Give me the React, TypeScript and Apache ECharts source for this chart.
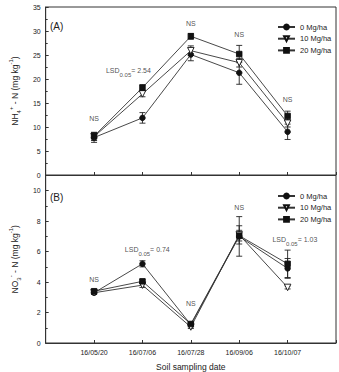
import React, { useEffect, useRef } from "react";
import * as echarts from "echarts";

const dates = ["16/05/20", "16/07/06", "16/07/28", "16/09/06", "16/10/07"];
const seriesNames = ["0 Mg/ha", "10 Mg/ha", "20 Mg/ha"];

// Panel A: NH4+-N
const a0 = [7.8, 11.9, 25.1, 21.3, 9.0];
const a10 = [8.0, 16.9, 25.9, 23.4, 10.8];
const a20 = [8.1, 18.2, 28.9, 25.2, 12.3];
const a0Err = [1.0, 1.1, 1.3, 2.4, 1.6];
const a10Err = [0.8, 0.6, 1.0, 0.9, 0.8];
const a20Err = [0.8, 0.6, 0.6, 1.8, 1.0];

// Panel B: NO3--N
const b0 = [3.3, 5.2, 1.2, 7.0, 4.9];
const b10 = [3.3, 3.8, 1.05, 7.1, 3.65];
const b20 = [3.4, 4.05, 1.25, 7.05, 5.2];
const b0Err = [0.1, 0.2, 0.15, 1.3, 0.65];
const b10Err = [0.1, 0.15, 0.1, 0.6, 0.1];
const b20Err = [0.1, 0.1, 0.1, 0.35, 0.9];

// annotations (data coords)
const nsA = [[0, 11.7], [2, 31.5], [3, 29.2], [4, 15.8]];
const nsB = [[0, 4.15], [2, 2.6], [3, 8.9]];
const lsdA = [[0.71, 21.7, "2.54"]];
const lsdB = [[1.1, 6.13, "0.74"], [4.15, 6.79, "1.03"]];

const FONT = "Liberation Sans, Arial, sans-serif";
const INK = "#222";

const symbols = [
  { symbol: "circle", size: 5.5, rotate: 0, fill: "#111" },
  { symbol: "triangle", size: 6.5, rotate: 180, fill: "#fff" },
  { symbol: "rect", size: 5.5, rotate: 0, fill: "#111" },
];

function lineSeries(name: string, vals: number[], idx: number, k: number) {
  const s = symbols[k];
  return {
    type: "line",
    name,
    xAxisIndex: idx,
    yAxisIndex: idx,
    data: vals.map((v, i) => [i, v]),
    symbol: s.symbol,
    symbolSize: s.size,
    symbolRotate: s.rotate,
    lineStyle: { color: "#333", width: 0.9 },
    itemStyle: { color: s.fill, borderColor: "#111", borderWidth: 0.9 },
    z: 3,
  };
}

function errSeries(vals: number[], errs: number[], idx: number) {
  return {
    type: "custom",
    xAxisIndex: idx,
    yAxisIndex: idx,
    silent: true,
    z: 2,
    data: vals.map((v, i) => [i, v - errs[i], v + errs[i]]),
    renderItem: (params: any, api: any) => {
      const lo = api.coord([api.value(0), api.value(1)]);
      const hi = api.coord([api.value(0), api.value(2)]);
      const w = 3;
      const st = { stroke: "#222", lineWidth: 0.9 };
      return {
        type: "group",
        children: [
          { type: "line", shape: { x1: lo[0], y1: lo[1], x2: hi[0], y2: hi[1] }, style: st },
          { type: "line", shape: { x1: lo[0] - w, y1: lo[1], x2: lo[0] + w, y2: lo[1] }, style: st },
          { type: "line", shape: { x1: hi[0] - w, y1: hi[1], x2: hi[0] + w, y2: hi[1] }, style: st },
        ],
      };
    },
  };
}

const richSub = {
  sub: { fontSize: 6, lineHeight: 6, verticalAlign: "bottom", fontFamily: FONT, color: INK, textBorderWidth: 0 },
  sup: { fontSize: 6, lineHeight: 6, verticalAlign: "top", fontFamily: FONT, color: INK, textBorderWidth: 0 },
};

function textSeries(items: any[], idx: number) {
  return {
    type: "scatter",
    xAxisIndex: idx,
    yAxisIndex: idx,
    silent: true,
    symbolSize: 1,
    itemStyle: { color: "transparent" },
    z: 5,
    data: items.map((d) => ({ value: [d[0], d[1]], name: d[2] })),
    label: {
      show: true,
      position: "inside",
      formatter: (p: any) => p.name,
      fontFamily: FONT,
      fontSize: 7,
      lineHeight: 14,
      color: INK,
      textBorderWidth: 0,
      textBorderColor: "transparent",
      rich: richSub,
    },
  };
}

function xAxis(idx: number, showLabels: boolean) {
  return {
    type: "value",
    gridIndex: idx,
    min: -1,
    max: 5,
    interval: 1,
    axisLine: { onZero: false, lineStyle: { color: "#333", width: 1 } },
    axisTick: { inside: true, length: 3, lineStyle: { color: "#333" } },
    splitLine: { show: false },
    axisLabel: {
      show: showLabels,
      margin: 6,
      fontFamily: FONT,
      fontSize: 7,
      color: INK,
      formatter: (v: number) => (v >= 0 && v <= 4 ? dates[v] : ""),
    },
    name: showLabels ? "Soil sampling date" : "",
    nameLocation: "middle",
    nameGap: 19,
    nameTextStyle: { fontFamily: FONT, fontSize: 8.5, color: INK },
  };
}

export default function App() {
  const ref = useRef<HTMLDivElement>(null);
  useEffect(() => {
    if (!ref.current) return;
    const chart = echarts.init(ref.current, null, { renderer: "svg" });
    const legendBase = {
      data: seriesNames,
      orient: "vertical",
      left: 272,
      itemWidth: 17,
      itemHeight: 6,
      itemGap: 3.7,
      textStyle: { fontFamily: FONT, fontSize: 7.5, lineHeight: 6, color: INK },
    };
    const option: any = {
      animation: false,
      backgroundColor: "#fff",
      textStyle: { fontFamily: FONT },
      title: [
        { text: "(A)", left: 45, top: 16, textStyle: { fontFamily: FONT, fontSize: 10, fontWeight: "normal", color: INK } },
        { text: "(B)", left: 45, top: 187, textStyle: { fontFamily: FONT, fontSize: 10, fontWeight: "normal", color: INK } },
      ],
      legend: [
        { ...legendBase, top: 18 },
        { ...legendBase, top: 187 },
      ],
      grid: [
        { left: 34, top: 7, width: 302, height: 168, show: true, borderColor: "#333", borderWidth: 1, backgroundColor: "transparent" },
        { left: 34, top: 175.5, width: 302, height: 168, show: true, borderColor: "#333", borderWidth: 1, backgroundColor: "transparent" },
      ],
      xAxis: [xAxis(0, false), xAxis(1, true)],
      yAxis: [
        {
          type: "value",
          gridIndex: 0,
          min: 0,
          max: 35,
          interval: 5,
          axisLine: { show: true, onZero: false, lineStyle: { color: "#333" } },
          axisTick: { show: true, inside: true, length: 3, lineStyle: { color: "#333" } },
          minorTick: { show: true, splitNumber: 2, length: 2, lineStyle: { color: "#333" } },
          splitLine: { show: false },
          axisLabel: { margin: 5, fontFamily: FONT, fontSize: 7, color: INK },
          name: "NH{sub|4}{sup|+} - N (mg kg{sup|-1})",
          nameLocation: "middle",
          nameGap: 15,
          nameTextStyle: { fontFamily: FONT, fontSize: 8.5, lineHeight: 14, color: INK, rich: richSub },
        },
        {
          type: "value",
          gridIndex: 1,
          min: 0,
          max: 11,
          interval: 2,
          axisLine: { show: true, onZero: false, lineStyle: { color: "#333" } },
          axisTick: { show: true, inside: true, length: 3, lineStyle: { color: "#333" } },
          minorTick: { show: true, splitNumber: 2, length: 2, lineStyle: { color: "#333" } },
          splitLine: { show: false },
          axisLabel: {
            margin: 5,
            fontFamily: FONT,
            fontSize: 7,
            color: INK,
            formatter: (v: number) => (v % 2 === 0 ? String(v) : ""),
          },
          name: "NO{sub|3}{sup|-} - N (mg kg{sup|-1})",
          nameLocation: "middle",
          nameGap: 15,
          nameTextStyle: { fontFamily: FONT, fontSize: 8.5, lineHeight: 14, color: INK, rich: richSub },
        },
      ],
      series: [
        errSeries(a0, a0Err, 0),
        errSeries(a10, a10Err, 0),
        errSeries(a20, a20Err, 0),
        lineSeries(seriesNames[0], a0, 0, 0),
        lineSeries(seriesNames[1], a10, 0, 1),
        lineSeries(seriesNames[2], a20, 0, 2),
        errSeries(b0, b0Err, 1),
        errSeries(b10, b10Err, 1),
        errSeries(b20, b20Err, 1),
        lineSeries(seriesNames[0], b0, 1, 0),
        lineSeries(seriesNames[1], b10, 1, 1),
        lineSeries(seriesNames[2], b20, 1, 2),
        textSeries(nsA.map((d) => [d[0], d[1], "NS"]), 0),
        textSeries(nsB.map((d) => [d[0], d[1], "NS"]), 1),
        textSeries(lsdA.map((d) => [d[0], d[1], "LSD{sub|0.05}= " + d[2]]), 0),
        textSeries(lsdB.map((d) => [d[0], d[1], "LSD{sub|0.05}= " + d[2]]), 1),
      ],
    };
    chart.setOption(option);
    return () => chart.dispose();
  }, []);
  return (
    <div
      ref={ref}
      style={{ position: "fixed", left: 0, top: 0, width: 339, height: 372, background: "#fff" }}
    />
  );
}
